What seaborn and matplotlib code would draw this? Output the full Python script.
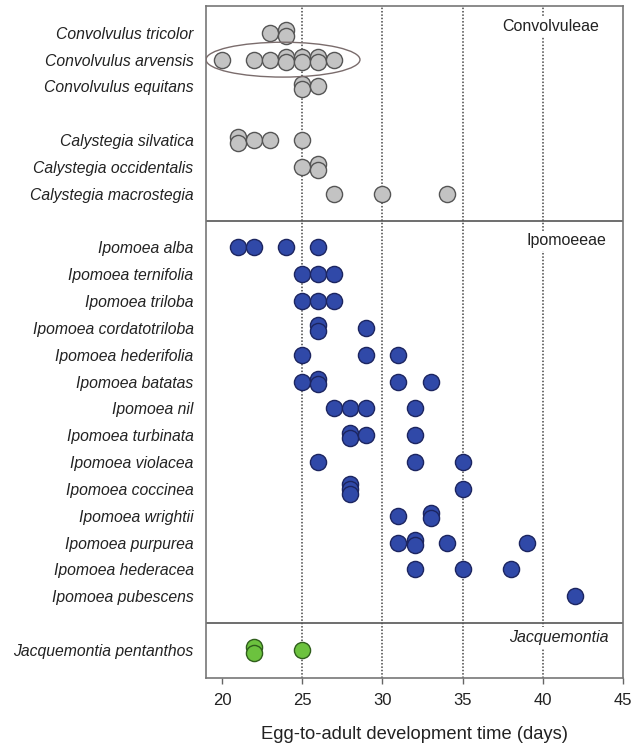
import numpy as np
import pandas as pd
import matplotlib
matplotlib.use("Agg")
import matplotlib.pyplot as plt
import seaborn as sns
from matplotlib.patches import Ellipse

# Development time observations (days) per host species
convolvuleae_species = [
    "Convolvulus tricolor", "Convolvulus arvensis", "Convolvulus equitans",
    "Calystegia silvatica", "Calystegia occidentalis", "Calystegia macrostegia",
]
convolvuleae_days = [
    [23, 24, 24],
    [20, 22, 23, 24, 24, 25, 25, 26, 26, 27],
    [25, 25, 26],
    [21, 21, 22, 23, 25],
    [25, 26, 26],
    [27, 30, 34],
]

ipomoeeae_species = [
    "Ipomoea alba", "Ipomoea ternifolia", "Ipomoea triloba", "Ipomoea cordatotriloba",
    "Ipomoea hederifolia", "Ipomoea batatas", "Ipomoea nil", "Ipomoea turbinata",
    "Ipomoea violacea", "Ipomoea coccinea", "Ipomoea wrightii", "Ipomoea purpurea",
    "Ipomoea hederacea", "Ipomoea pubescens",
]
ipomoeeae_days = [
    [21, 22, 24, 26],
    [25, 26, 27],
    [25, 26, 27],
    [26, 26, 29],
    [25, 29, 31],
    [25, 26, 26, 31, 33],
    [27, 28, 29, 32],
    [28, 28, 29, 32],
    [26, 32, 35],
    [28, 28, 28, 35],
    [31, 33, 33],
    [31, 32, 32, 34, 39],
    [32, 35, 38],
    [42],
]

jacquemontia_species = ["Jacquemontia pentanthos"]
jacquemontia_days = [[22, 22, 25]]

x_ticks = [20, 25, 30, 35, 40, 45]

# Row layout: None = blank spacer row, "|" = tribe divider
row_layout = (convolvuleae_species[:3] + [None] + convolvuleae_species[3:] + ["|"]
              + ipomoeeae_species + ["|"] + jacquemontia_species)
row_pos = {name: i for i, name in enumerate(row_layout) if name not in (None, "|")}
divider_rows = [i for i, name in enumerate(row_layout) if name == "|"]

records = []
for tribe, names, vals in [("Convolvuleae", convolvuleae_species, convolvuleae_days),
                           ("Ipomoeeae", ipomoeeae_species, ipomoeeae_days),
                           ("Jacquemontia", jacquemontia_species, jacquemontia_days)]:
    for name, days in zip(names, vals):
        counts = pd.Series(days).value_counts()
        seen = {}
        for d in days:
            k = seen.get(d, 0)
            seen[d] = k + 1
            n = counts[d]
            # stack repeated values slightly so overlapping circles stay visible
            off = (k - (n - 1) / 2) * 0.2
            records.append(dict(tribe=tribe, species=name, days=d, row=row_pos[name] + off))
df = pd.DataFrame(records)

sns.set_theme(style="white")
plt.rcParams["font.family"] = ["Liberation Sans", "DejaVu Sans"]

fig = plt.figure(figsize=(6.35, 7.48), dpi=100)
ax = fig.add_axes([206 / 635, 1 - 678 / 748, (623 - 206) / 635, (678 - 6) / 748])

for x in [25, 30, 35, 40]:
    ax.axvline(x, ls=(0, (1, 1.2)), color="#444444", lw=1.1, zorder=1)
for r in divider_rows:
    ax.axhline(r, color="#555555", lw=1.2, zorder=1)

styles = {
    "Convolvuleae": ("#c3c3c3", "#555555"),
    "Ipomoeeae": ("#3049a8", "#1c2560"),
    "Jacquemontia": ("#6cc23e", "#2f5e1c"),
}
for tribe, (fc, ec) in styles.items():
    sub = df[df.tribe == tribe]
    sns.scatterplot(data=sub, x="days", y="row", ax=ax, color=fc, edgecolor=ec,
                    linewidth=1.0, s=135, zorder=3, legend=False)

ax.add_patch(Ellipse((23.8, row_pos["Convolvulus arvensis"]), 9.6, 1.3,
                     fill=False, ec="#7a6c6c", lw=1.0, zorder=4))

box = dict(fc="white", ec="none", pad=2)
ax.text(40.5, -0.22, "Convolvuleae", ha="center", va="center", fontsize=11.5,
        color="#222222", bbox=box, zorder=5)
ax.text(41.47, 7.76, "Ipomoeeae", ha="center", va="center", fontsize=11.5,
        color="#222222", bbox=box, zorder=5)
ax.text(41.0, 22.54, "Jacquemontia", ha="center", va="center", fontsize=11.5,
        style="italic", color="#222222", bbox=box, zorder=5)

ax.set_xlim(19, 45)
ax.set_ylim(24.05, -1.0)
ax.set_xticks(x_ticks)
ax.set_xticklabels([str(t) for t in x_ticks], fontsize=12, color="#222222")
ax.set_yticks([row_pos[n] for n in row_pos])
ax.set_yticklabels(list(row_pos.keys()), fontsize=11.3, style="italic", color="#222222")
ax.tick_params(axis="y", length=0, pad=9)
ax.tick_params(axis="x", length=4, width=1, color="#666666", pad=7, direction="out",
               bottom=True)
ax.set_xlabel("Egg-to-adult development time (days)", fontsize=13.2, color="#222222",
              labelpad=13)
ax.set_ylabel("")
for sp in ax.spines.values():
    sp.set_color("#777777")
    sp.set_linewidth(1.2)

fig.savefig("out.png", dpi=100)
